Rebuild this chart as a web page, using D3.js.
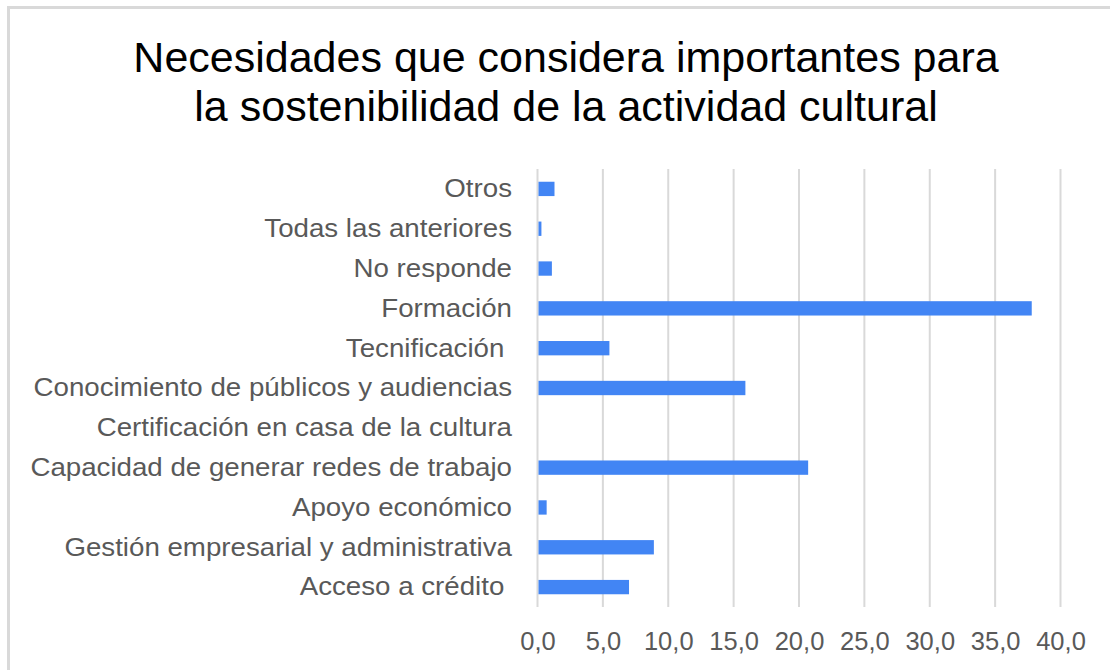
<!DOCTYPE html>
<html><head><meta charset="utf-8">
<script src="https://cdn.jsdelivr.net/npm/d3@7"></script>
<style>body{margin:0;background:#fff;}svg{display:block;font-family:"Liberation Sans",Arial,sans-serif;}</style>
</head><body><svg id="c" width="1110" height="670"></svg>
<script>
const categories = ["Otros","Todas las anteriores","No responde","Formación","Tecnificación ","Conocimiento de públicos y audiencias","Certificación en casa de la cultura","Capacidad de generar redes de trabajo","Apoyo económico","Gestión empresarial y administrativa","Acceso a crédito "];
const values = [1.3,0.3,1.1,37.8,5.5,15.9,0,20.7,0.7,8.9,7.0];
const xTicks = [0,5,10,15,20,25,30,35,40];
const titleLines = ["Necesidades que considera importantes para","la sostenibilidad de la actividad cultural"];

const svg = d3.select("#c");
svg.append("path").attr("d","M8.5,670 V7.5 H1110").attr("fill","none").attr("stroke","#d9d9d9").attr("stroke-width",3);

svg.selectAll("text.title").data(titleLines).join("text").attr("class","title")
  .attr("x",566).attr("y",(d,i)=>72+i*48.5).attr("text-anchor","middle")
  .attr("font-size",43).attr("fill","#000").text(d=>d);

const x = d3.scaleLinear().domain([0,40]).range([537.5,1060.5]);
const y = d3.scaleBand().domain(categories).range([169,607]).paddingInner(0.64).paddingOuter(0.32);

const g = svg.append("g");
g.selectAll("line.grid").data(xTicks).join("line").attr("class","grid")
  .attr("x1",d=>x(d)).attr("x2",d=>x(d)).attr("y1",169).attr("y2",607)
  .attr("stroke","#d9d9d9").attr("stroke-width",2);

g.selectAll("rect").data(values).join("rect")
  .attr("x",x(0)+1).attr("y",(d,i)=>y(categories[i]))
  .attr("width",d=>Math.max(0,x(d)-x(0)-1)).attr("height",y.bandwidth())
  .attr("fill","#4285f4");

const xAxis = d3.axisBottom(x).tickValues(xTicks).tickSize(0).tickPadding(0)
  .tickFormat(d=>d3.format(".1f")(d).replace(".",","));
const ax = svg.append("g").attr("transform","translate(0,650)").call(xAxis);
ax.select(".domain").remove();
ax.selectAll("text").attr("dy","0").attr("font-size",25.5).attr("fill","#595959").attr("font-family","Liberation Sans, Arial, sans-serif");

const yAxis = d3.axisLeft(y).tickSize(0).tickPadding(0);
const ay = svg.append("g").attr("transform","translate(512,0)").call(yAxis);
ay.select(".domain").remove();
ay.selectAll("text").attr("font-size",26).attr("fill","#595959").attr("font-family","Liberation Sans, Arial, sans-serif")
  .style("white-space","pre")
  .attr("transform","scale(1.065,1)");
</script></body></html>
